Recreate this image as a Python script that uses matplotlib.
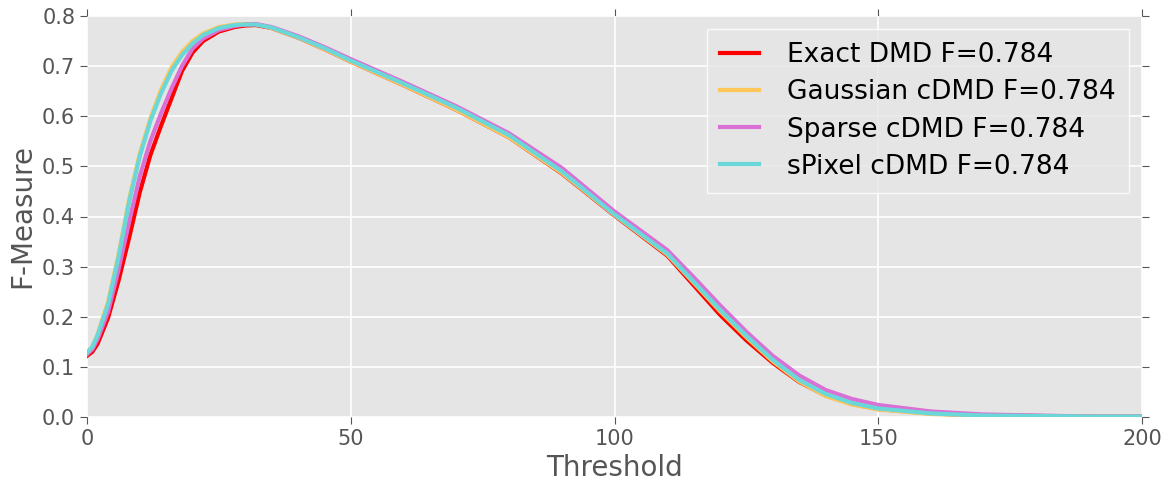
import matplotlib
matplotlib.use("Agg")
import matplotlib.pyplot as plt

# dados
threshold = [0, 1, 2, 4, 6, 8, 10, 12, 14, 16, 18, 20, 22, 25, 28, 30, 32, 35, 40, 45, 50,
             60, 70, 80, 90, 100, 110, 115, 120, 125, 130, 135, 140, 145, 150, 160, 170, 180, 190, 200]

exact = [0.122, 0.13, 0.146, 0.198, 0.273, 0.358, 0.448, 0.522, 0.58, 0.635, 0.69, 0.727, 0.75, 0.769, 0.778,
         0.781, 0.782, 0.776, 0.757, 0.734, 0.709, 0.662, 0.613, 0.558, 0.486, 0.402, 0.322, 0.263, 0.204,
         0.153, 0.108, 0.07, 0.043, 0.026, 0.016, 0.007, 0.003, 0.002, 0.001, 0.001]
gaussian = [0.127, 0.14, 0.165, 0.23, 0.325, 0.435, 0.525, 0.595, 0.652, 0.697, 0.728, 0.75, 0.765, 0.778, 0.783,
            0.784, 0.784, 0.776, 0.757, 0.734, 0.709, 0.662, 0.613, 0.558, 0.487, 0.403, 0.324, 0.268, 0.211,
            0.159, 0.111, 0.071, 0.042, 0.025, 0.015, 0.006, 0.003, 0.002, 0.001, 0.001]
sparse = [0.125, 0.135, 0.155, 0.21, 0.295, 0.39, 0.48, 0.55, 0.605, 0.655, 0.7, 0.735, 0.755, 0.772, 0.78,
          0.783, 0.784, 0.778, 0.76, 0.738, 0.714, 0.668, 0.62, 0.566, 0.497, 0.41, 0.333, 0.279, 0.223,
          0.17, 0.122, 0.083, 0.054, 0.036, 0.024, 0.011, 0.005, 0.003, 0.001, 0.001]
spixel = [0.128, 0.14, 0.163, 0.225, 0.32, 0.43, 0.52, 0.59, 0.645, 0.69, 0.722, 0.745, 0.762, 0.776, 0.782,
          0.783, 0.783, 0.777, 0.758, 0.736, 0.711, 0.665, 0.617, 0.562, 0.49, 0.404, 0.326, 0.27, 0.214,
          0.162, 0.114, 0.074, 0.046, 0.028, 0.017, 0.007, 0.003, 0.002, 0.001, 0.001]

labels = ['Exact DMD F=0.784', 'Gaussian cDMD F=0.784', 'Sparse cDMD F=0.784', 'sPixel cDMD F=0.784']
cores = ['#ff0000', '#ffc65a', '#da70d6', '#6ad8d8']

plt.rcParams['font.family'] = 'DejaVu Sans'
fig = plt.figure(figsize=(11.74, 4.83), dpi=100)
ax = fig.add_axes([87 / 1174, 66 / 483, 1055 / 1174, 401 / 483])
ax.set_facecolor('#e5e5e5')

for serie, lab, cor in zip([exact, gaussian, sparse, spixel], labels, cores):
    ax.plot(threshold, serie, color=cor, lw=3, label=lab)

ax.set_xlim(0, 200)
ax.set_ylim(0, 0.8)
ax.set_xticks([0, 50, 100, 150, 200])
ax.set_yticks([0, 0.1, 0.2, 0.3, 0.4, 0.5, 0.6, 0.7, 0.8])
ax.set_yticklabels(['0.0', '0.1', '0.2', '0.3', '0.4', '0.5', '0.6', '0.7', '0.8'])
ax.grid(True, color='white', lw=1.2)
ax.set_axisbelow(True)
for s in ax.spines.values():
    s.set_visible(False)
ax.tick_params(axis='both', which='both', direction='out', color='#555555', labelcolor='#555555',
               labelsize=15, top=True, right=True, length=5)
ax.set_xlabel('Threshold', fontsize=20, color='#555555')
ax.set_ylabel('F-Measure', fontsize=20, color='#555555')

leg = ax.legend(loc='upper right', fontsize=19, frameon=True, handlelength=1.5, borderpad=0.5,
                labelspacing=0.42, handletextpad=1.05, borderaxespad=0.5)
leg.get_frame().set_facecolor('#e5e5e5')
leg.get_frame().set_edgecolor('white')
leg.get_frame().set_boxstyle('square', pad=0)

fig.savefig('out.png', dpi=100)
